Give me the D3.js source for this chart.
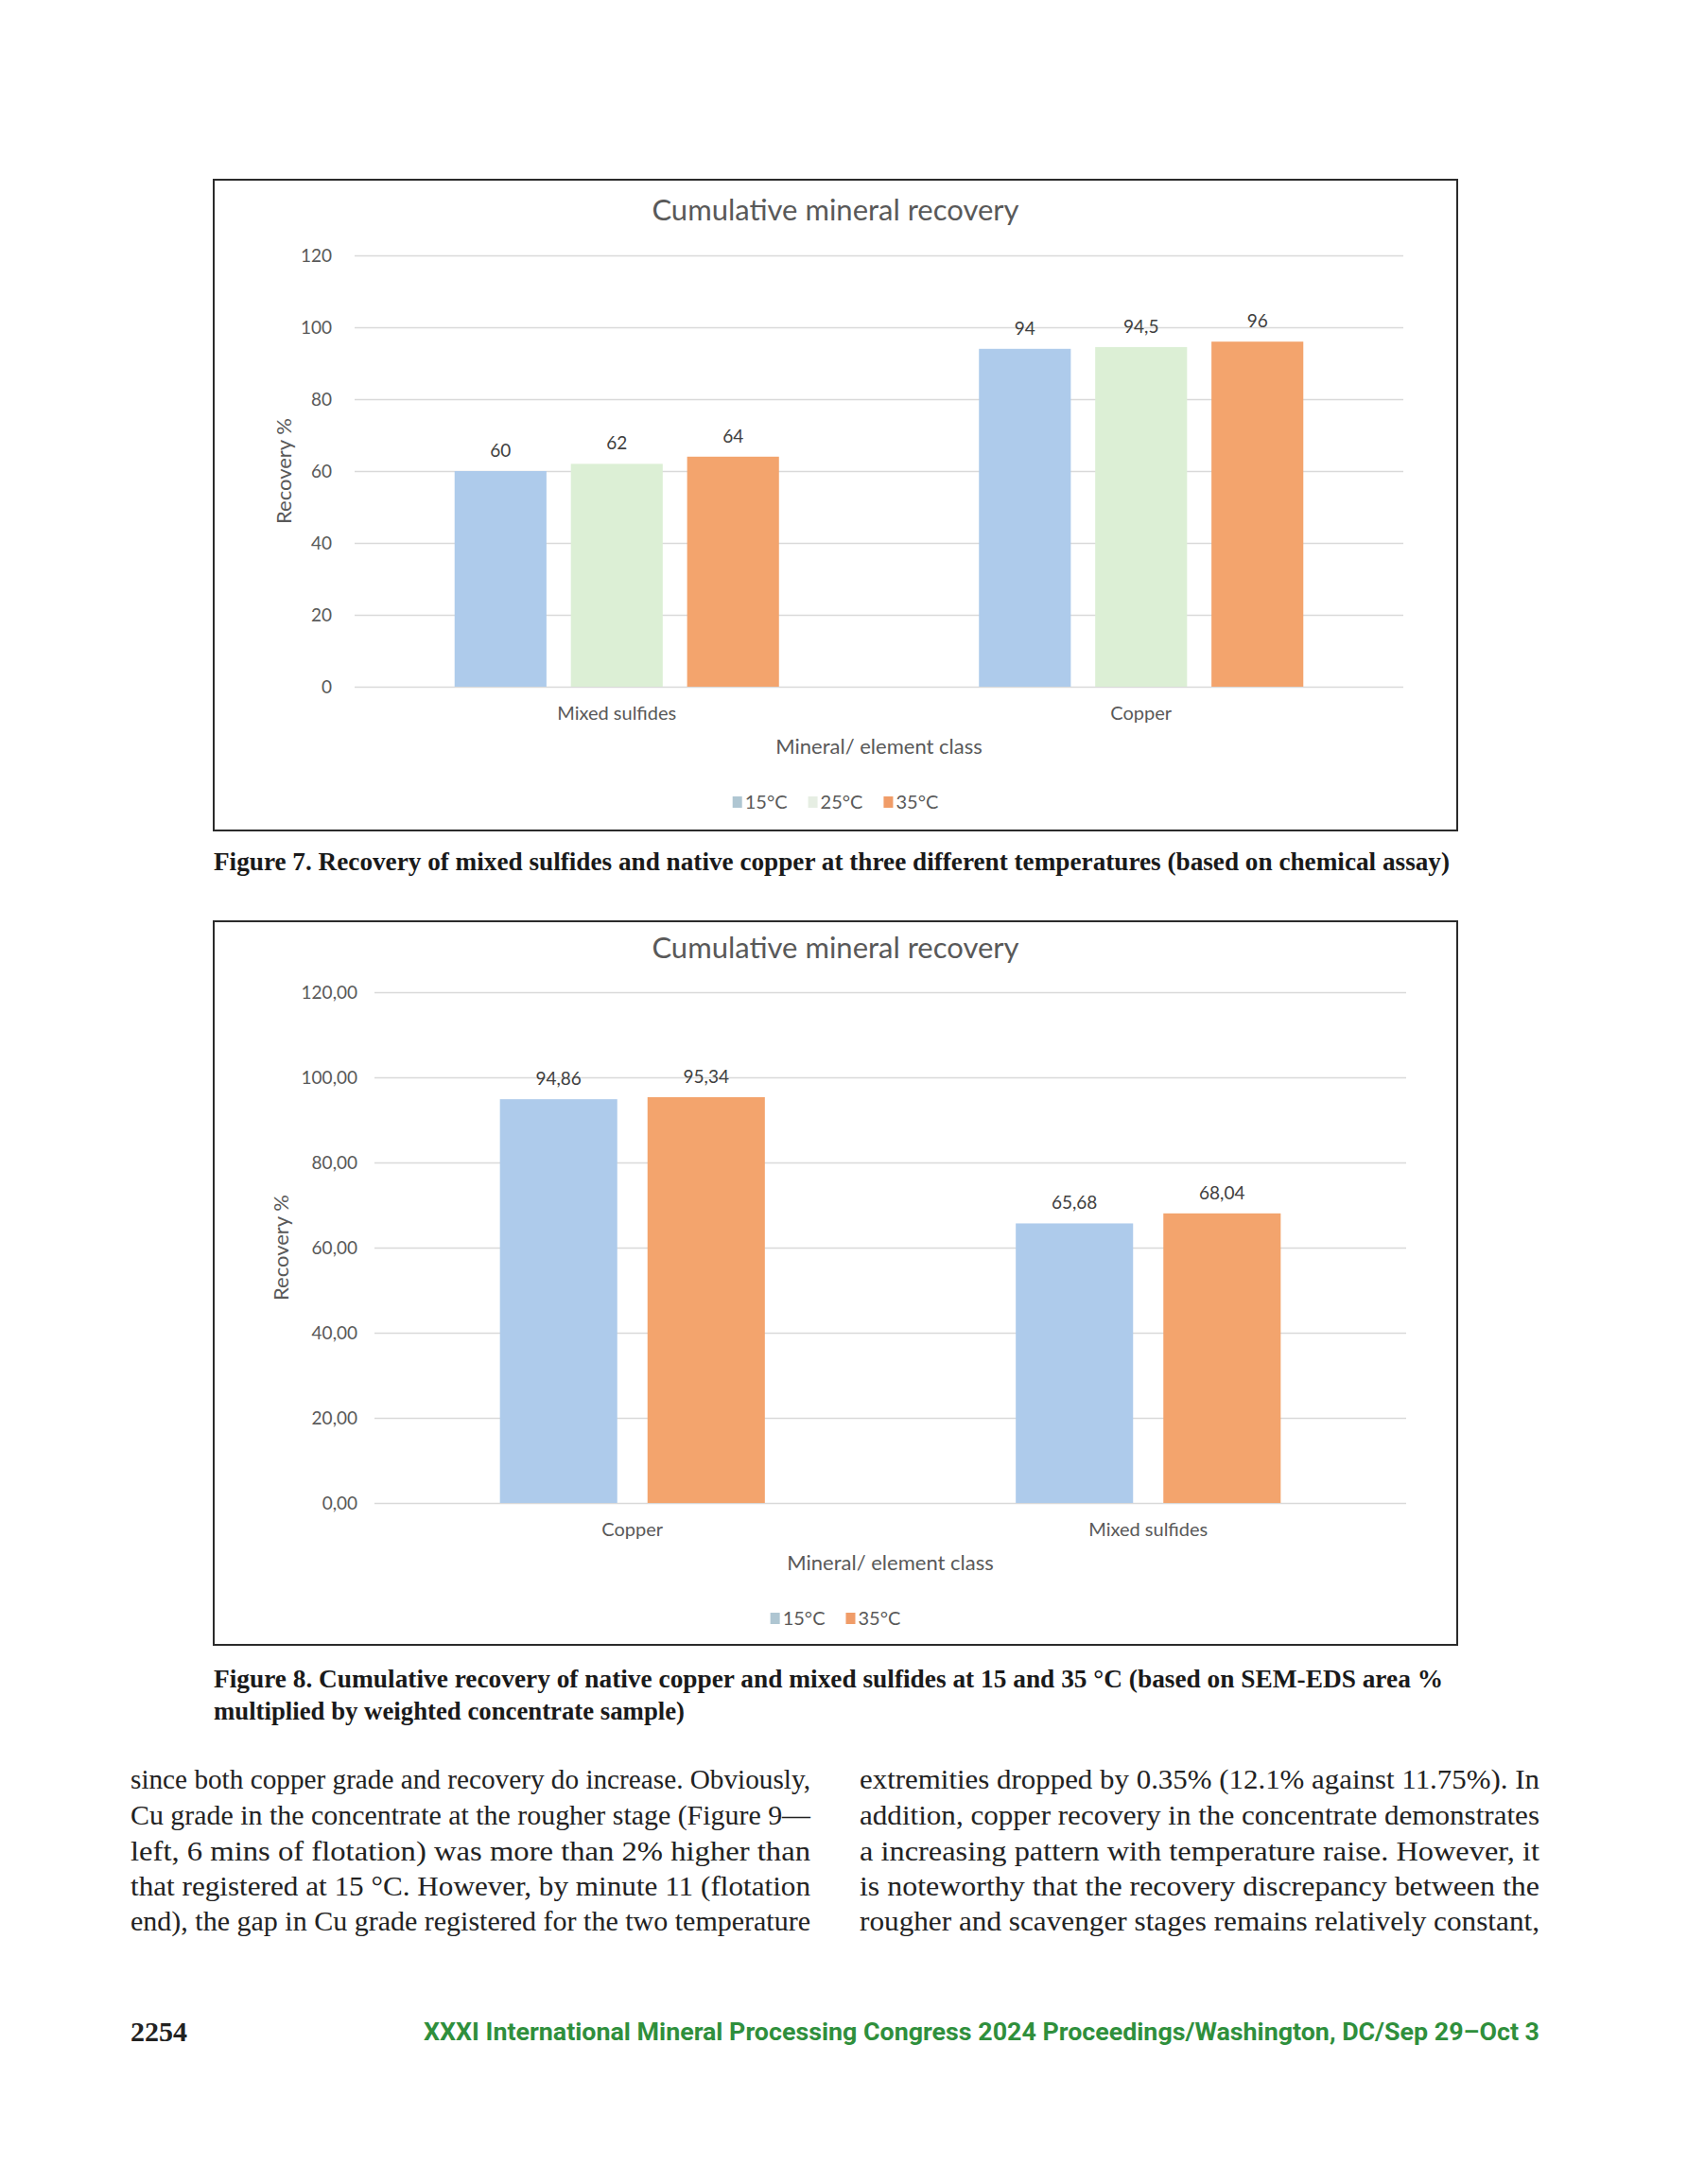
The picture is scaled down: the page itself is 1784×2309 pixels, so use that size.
<!DOCTYPE html>
<html>
<head>
<meta charset="utf-8">
<script src="https://cdn.jsdelivr.net/npm/d3@7"></script>
<style>
    body { margin: 0; background: #fff; }
    svg { display: block; }
</style>
</head>
<body>
<svg id="page" width="1784" height="2309"></svg>
<script>
// ---- data ----
const Fig7Categories = ["Mixed sulfides", "Copper"];
const Fig7Series = ["15°C", "25°C", "35°C"];
const Fig7Recovery15 = [60, 94];
const Fig7Recovery25 = [62, 94.5];
const Fig7Recovery35 = [64, 96];
const Fig7Ticks = [0, 20, 40, 60, 80, 100, 120];

const Fig8Categories = ["Copper", "Mixed sulfides"];
const Fig8Series = ["15°C", "35°C"];
const Fig8Recovery15 = [94.86, 65.68];
const Fig8Recovery35 = [95.34, 68.04];
const Fig8Ticks = [0, 20, 40, 60, 80, 100, 120];

const SeriesColors = {"15°C": "#aecbeb", "25°C": "#dcefd5", "35°C": "#f3a46d"};
const LegendColors = {"15°C": "#afc6d2", "25°C": "#e6eee3", "35°C": "#f09c68"};

const ChartFont = "Lato, 'Open Sans', sans-serif";
const PageSerif = "'Liberation Serif', 'DejaVu Serif', serif";

const comma = s => s.replace(".", ",");

class BarChart {

    Svg
    #G
    #Cfg

    constructor(svg, cfg) {
        this.Svg = svg;
        this.#Cfg = cfg;
        this.#G = svg.append("g");
    }

    DrawFrame() {
        let c = this.#Cfg;
        this.#G.append("rect")
            .attr("x", c.box.x).attr("y", c.box.y)
            .attr("width", c.box.w).attr("height", c.box.h)
            .attr("fill", "#fff").attr("stroke", "#2b2b2b").attr("stroke-width", 2);

        this.#G.append("text")
            .attr("x", c.box.x + c.box.w / 2).attr("y", c.titleY)
            .attr("text-anchor", "middle")
            .style("font-family", ChartFont).style("font-size", "31px")
            .attr("fill", "#595959")
            .text("Cumulative mineral recovery");
    }

    DrawChart(categories, series, values, ticks, tickFmt, labelFmt) {
        let c = this.#Cfg;
        let g = this.#G;
        let p = c.plot;

        let x = d3.scaleBand().domain(categories).range([p.left, p.right]);
        let xs = d3.scaleBand().domain(series).range([0, x.bandwidth()])
            .paddingInner(c.padInner).paddingOuter(c.padOuter);
        let y = d3.scaleLinear().domain([0, 120]).range([p.bottom, p.top]);

        //格線與刻度
        let axis = g.append("g")
            .attr("transform", `translate(${p.left},0)`)
            .call(d3.axisLeft(y).tickValues(ticks).tickFormat(tickFmt)
                .tickSize(-(p.right - p.left)).tickPadding(c.tickPad));
        axis.select(".domain").remove();
        axis.selectAll("line").attr("stroke", "#d9d9d9").attr("stroke-width", 1.6);
        axis.selectAll("text")
            .style("font-family", ChartFont).style("font-size", "19px")
            .attr("fill", "#595959");

        //長條
        let rows = [];
        categories.forEach((cat, i) => {
            series.forEach((s, j) => rows.push({cat: cat, s: s, v: values[j][i]}));
        });

        g.append("g").selectAll("rect").data(rows).enter().append("rect")
            .attr("x", d => x(d.cat) + xs(d.s))
            .attr("y", d => y(d.v))
            .attr("width", xs.bandwidth())
            .attr("height", d => y(0) - y(d.v))
            .attr("fill", d => SeriesColors[d.s]);

        g.append("g").selectAll("text").data(rows).enter().append("text")
            .attr("x", d => x(d.cat) + xs(d.s) + xs.bandwidth() / 2)
            .attr("y", d => y(d.v) - 15)
            .attr("text-anchor", "middle")
            .style("font-family", ChartFont).style("font-size", "19px")
            .attr("fill", "#404040")
            .text(d => labelFmt(d.v));

        //類別標籤
        g.append("g").selectAll("text").data(categories).enter().append("text")
            .attr("x", d => x(d) + x.bandwidth() / 2)
            .attr("y", c.catY)
            .attr("text-anchor", "middle")
            .style("font-family", ChartFont).style("font-size", "20px")
            .attr("fill", "#595959")
            .text(d => d);

        g.append("text")
            .attr("x", (p.left + p.right) / 2).attr("y", c.axisTitleY)
            .attr("text-anchor", "middle")
            .style("font-family", ChartFont).style("font-size", "22px")
            .attr("fill", "#595959")
            .text("Mineral/ element class");

        g.append("text")
            .attr("transform", `translate(${c.yTitleX},${(p.top + p.bottom) / 2}) rotate(-90)`)
            .attr("text-anchor", "middle")
            .attr("dy", "0.35em")
            .style("font-family", ChartFont).style("font-size", "22px")
            .attr("fill", "#595959")
            .text("Recovery %");

        this.#DrawLegend(series);
    }

    #DrawLegend(series) {
        let c = this.#Cfg;
        let lg = this.#G.append("g");
        let cursor = 0;
        series.forEach(s => {
            lg.append("rect")
                .attr("x", cursor).attr("y", c.legendY - 13)
                .attr("width", 10).attr("height", 12)
                .attr("fill", LegendColors[s]);
            let t = lg.append("text")
                .attr("x", cursor + 13).attr("y", c.legendY)
                .style("font-family", ChartFont).style("font-size", "20px")
                .attr("fill", "#595959")
                .text(s);
            cursor += 13 + t.node().getComputedTextLength() + 22;
        });
        let w = cursor - 22;
        lg.attr("transform", `translate(${c.box.x + c.box.w / 2 - w / 2},0)`);
    }
}

let svg = d3.select("#page");
svg.append("rect").attr("width", 1784).attr("height", 2309).attr("fill", "#fff");

let chart7 = new BarChart(svg, {
    box: {x: 226, y: 190, w: 1315, h: 688},
    plot: {left: 375, right: 1484, top: 270, bottom: 726},
    titleY: 233, tickPad: 24, yTitleX: 300,
    catY: 761, axisTitleY: 797, legendY: 855,
    padInner: 0.21, padOuter: 0.86
});
chart7.DrawFrame();
chart7.DrawChart(Fig7Categories, Fig7Series, [Fig7Recovery15, Fig7Recovery25, Fig7Recovery35],
    Fig7Ticks, d => String(d), v => comma(String(v)));

let chart8 = new BarChart(svg, {
    box: {x: 226, y: 974, w: 1315, h: 765},
    plot: {left: 396, right: 1487, top: 1049, bottom: 1589},
    titleY: 1013, tickPad: 18, yTitleX: 297,
    catY: 1624, axisTitleY: 1660, legendY: 1718,
    padInner: 0.205, padOuter: 0.85
});
chart8.DrawFrame();
chart8.DrawChart(Fig8Categories, Fig8Series, [Fig8Recovery15, Fig8Recovery35],
    Fig8Ticks, d => comma(d.toFixed(2)), v => comma(v.toFixed(2)));

// ---- page text ----
function FitText(x, y, width, str, size, weight, family, fill) {
    return svg.append("text")
        .attr("x", x).attr("y", y)
        .attr("textLength", width).attr("lengthAdjust", "spacingAndGlyphs")
        .style("font-family", family).style("font-size", size + "px")
        .style("font-weight", weight)
        .attr("fill", fill)
        .text(str);
}

FitText(226, 920, 1307,
    "Figure 7. Recovery of mixed sulfides and native copper at three different temperatures (based on chemical assay)",
    28, "bold", PageSerif, "#1a1a1a");
FitText(226, 1784, 1300,
    "Figure 8. Cumulative recovery of native copper and mixed sulfides at 15 and 35 °C (based on SEM-EDS area %",
    28, "bold", PageSerif, "#1a1a1a");
FitText(226, 1818, 498,
    "multiplied by weighted concentrate sample)",
    28, "bold", PageSerif, "#1a1a1a");

const LeftColumn = [
    "since both copper grade and recovery do increase. Obviously,",
    "Cu grade in the concentrate at the rougher stage (Figure 9—",
    "left, 6 mins of flotation) was more than 2% higher than",
    "that registered at 15 °C. However, by minute 11 (flotation",
    "end), the gap in Cu grade registered for the two temperature"
];
const RightColumn = [
    "extremities dropped by 0.35% (12.1% against 11.75%). In",
    "addition, copper recovery in the concentrate demonstrates",
    "a increasing pattern with temperature raise. However, it",
    "is noteworthy that the recovery discrepancy between the",
    "rougher and scavenger stages remains relatively constant,"
];
const LineY = [1891, 1929, 1967, 2004, 2041];

LeftColumn.forEach((s, i) => FitText(138, LineY[i], 719, s, 30, "normal", PageSerif, "#222"));
RightColumn.forEach((s, i) => FitText(909, LineY[i], 719, s, 30, "normal", PageSerif, "#222"));

FitText(138, 2158, 60, "2254", 29, "bold", PageSerif, "#222");

svg.append("text").attr("x", 1628).attr("y", 2157)
    .attr("text-anchor", "end")
    .attr("textLength", 1180).attr("lengthAdjust", "spacingAndGlyphs")
    .style("font-family", "Roboto, sans-serif").style("font-size", "26px").style("font-weight", "bold")
    .attr("fill", "#2f8f3c")
    .text("XXXI International Mineral Processing Congress 2024 Proceedings/Washington, DC/Sep 29–Oct 3");
</script>
</body>
</html>
